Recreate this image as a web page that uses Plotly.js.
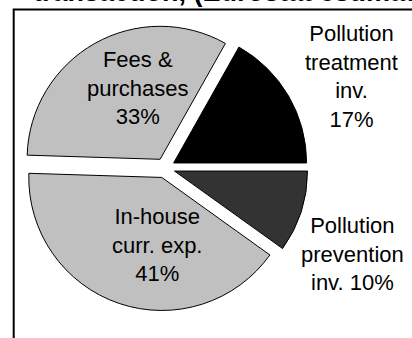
<!DOCTYPE html>
<html>
<head>
<meta charset="utf-8">
<script src="https://cdn.plot.ly/plotly-3.0.1.min.js"></script>
<style>
  html, body { margin: 0; padding: 0; background: #ffffff; }
  #chart { width: 412px; height: 338px; }
</style>
</head>
<body>
<div id="chart"></div>
<script>
// Shares of environmental protection expenditure by type of transaction (%)
const categories = [
  'Pollution<br>treatment<br>inv.',
  'Pollution<br>prevention<br>inv.',
  'In-house<br>curr. exp.',
  'Fees &<br>purchases'
];
const shares = [17, 10, 41, 33];
// Break placed between each category name and its percentage
const valueSeparators = ['<br>', ' ', '<br>', '<br>'];
const sliceColors = ['#000000', '#333333', '#c0c0c0', '#c0c0c0'];

// Label anchor points in pixels (centre x, centre y from top)
const labelCentres = [[351, 76], [352, 254], [157, 245], [138, 88]];

const W = 412, H = 338;
const px = x => x / W;
const py = y => 1 - y / H;

const pie = {
  type: 'pie',
  labels: categories.map(c => c.replace(/<br>/g, ' ')),
  values: shares,
  sort: false,
  direction: 'clockwise',
  rotation: 90 - 360 * shares[0] / shares.reduce((a, b) => a + b, 0),
  pull: 0.075,
  marker: { colors: sliceColors, line: { color: '#000000', width: 1 } },
  textinfo: 'none',
  hoverinfo: 'label+percent',
  showlegend: false,
  domain: { x: [px(22), px(308)], y: [py(311), py(25)] }
};

const labelAnnotations = categories.map((c, i) => ({
  xref: 'paper', yref: 'paper',
  x: px(labelCentres[i][0]), y: py(labelCentres[i][1]),
  xanchor: 'center', yanchor: 'middle',
  text: c + valueSeparators[i] + shares[i] + '%',
  showarrow: false,
  align: 'center',
  font: { family: 'Liberation Sans, Arial, sans-serif', size: 22, color: '#000000' }
}));

const titleAnnotation = {
  xref: 'paper', yref: 'paper',
  x: px(31), y: py(9),
  xanchor: 'left', yanchor: 'bottom',
  text: '<b>transaction, (Eurostat estimate)</b>',
  showarrow: false,
  font: { family: 'Liberation Sans, Arial, sans-serif', size: 27, color: '#000000' }
};

const layout = {
  width: W, height: H,
  margin: { l: 0, r: 0, t: 0, b: 0 },
  paper_bgcolor: '#ffffff',
  plot_bgcolor: '#ffffff',
  showlegend: false,
  annotations: labelAnnotations.concat([titleAnnotation]),
  shapes: [{
    type: 'rect', xref: 'paper', yref: 'paper',
    x0: px(13.7), x1: 1.2, y0: -0.2, y1: py(9.5),
    line: { color: '#000000', width: 2 },
    fillcolor: 'rgba(0,0,0,0)',
    layer: 'below'
  }]
};

Plotly.newPlot('chart', [pie], layout, { displayModeBar: false, staticPlot: true });
</script>
</body>
</html>
